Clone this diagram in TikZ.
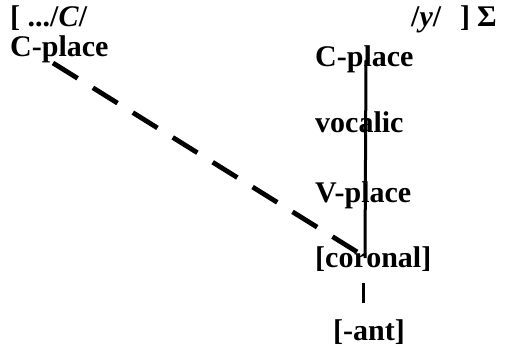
\documentclass[tikz,border=0pt]{standalone}
\usepackage{fontspec}
\setmainfont{Liberation Serif}
\begin{document}
\begin{tikzpicture}[x=1pt,y=1pt,
  lbl/.style={anchor=base west,inner sep=0pt,font=\fontsize{30}{30}\selectfont\bfseries},
  assoc/.style={line width=3pt},
  spread/.style={line width=4.8pt,dash pattern=on 29pt off 18pt}]
\useasboundingbox (0,0) rectangle (508,346);

% top line of the string
\node[lbl] (seg) at (10,319) {[ .../\textit{C}/};
\node[lbl] (yy) at (411,319) {/\textit{y}/};
\node[lbl] (brk) at (460,319) {]\hspace{7pt}Σ};

% left consonant
\node[lbl] (cpL) at (10,289) {C-place};

% right feature tree
\node[lbl] (cpR) at (315,279) {C-place};
\node[lbl] (voc) at (315,214) {vocalic};
\node[lbl] (vpl) at (315,144) {V-place};
\node[lbl] (cor) at (315,79) {[coronal]};
\node[lbl] (ant) at (333,6) {[-ant]};

% attachment points on the nodes
\coordinate (cpRb) at (366,286);
\coordinate (corT) at (365,88);
\coordinate (corB) at (363,63);
\coordinate (antT) at (363,43);
\coordinate (cpLs) at (53,283);
\coordinate (corL) at (362,91);

\draw[assoc] (cpRb) -- (corT);
\draw[assoc] (corB) -- (antT);
\draw[spread] (cpLs) -- (corL);
\end{tikzpicture}
\end{document}
